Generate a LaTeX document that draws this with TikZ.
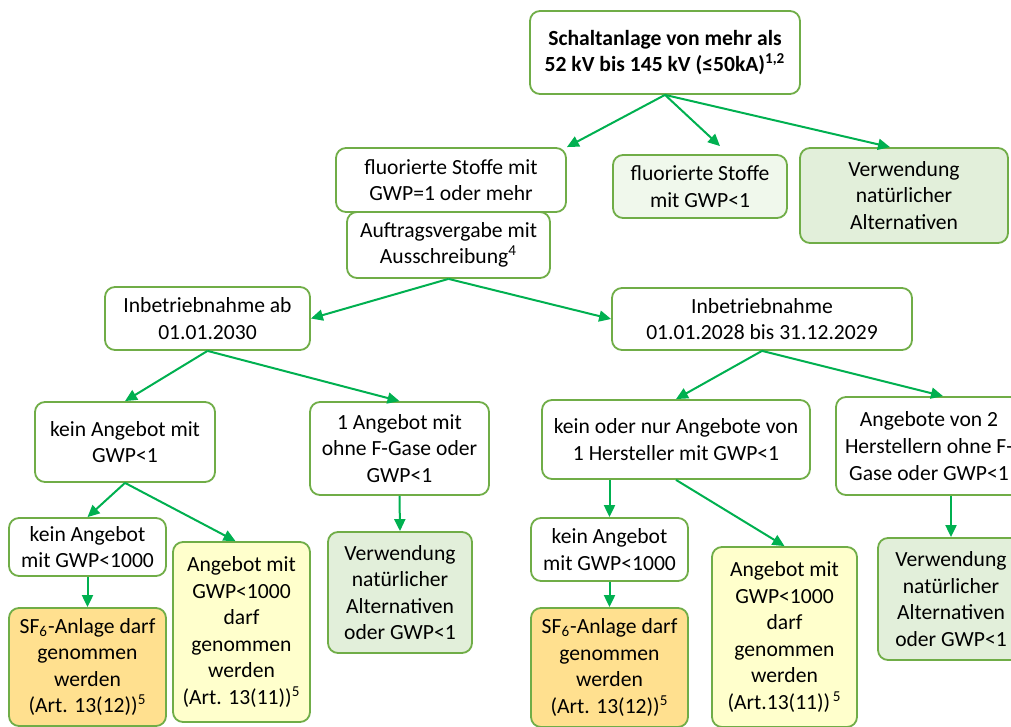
\documentclass[tikz,border=0pt]{standalone}
\usepackage{fontspec}
\setmainfont{Carlito}
\usepackage{xcolor}
\usetikzlibrary{arrows.meta,calc}
\definecolor{boxgreen}{HTML}{70AD47}
\definecolor{arrowgreen}{HTML}{00B050}
\definecolor{palegreen}{HTML}{F0F8EC}
\definecolor{lightgreen}{HTML}{E2EFDA}
\definecolor{lightyellow}{HTML}{FFFFCC}
\definecolor{lightorange}{HTML}{FFE08F}
\tikzset{
	box/.style={draw=boxgreen, line width=0.9pt, rounded corners=5pt, fill=white,
		align=center, inner sep=1pt},
	flow/.style={draw=arrowgreen, line width=1pt, -{Triangle[length=6pt,width=5.5pt]}}
}
\tikzstyle{natural}=[fill=lightgreen]
\tikzstyle{lowgwp}=[fill=palegreen]
\tikzstyle{maybe}=[fill=lightyellow]
\tikzstyle{allowed}=[fill=lightorange]

\begin{document}
\begin{tikzpicture}[x=0.5pt, y=-0.5pt, font=\fontsize{10.8}{13.3}\selectfont]
	\useasboundingbox (0,0) rectangle (1011,727);
	\clip (0,0) rectangle (1011,727);
%
	\node[box, minimum width=135pt, minimum height=41.5pt, font=\fontsize{10.8}{13.3}\selectfont\bfseries] (top) at (665,52.5)
		{Schaltanlage von mehr als\\52 kV bis 145 kV (≤50kA)\textsuperscript{1,2}};
	\node[box, minimum width=115pt, minimum height=32pt] (fluor) at (451,180)
		{fluorierte Stoffe mit\\GWP=1 oder mehr};
	\node[box, lowgwp, minimum width=87pt, minimum height=31.5pt] (fluorlow) at (700,186.5)
		{fluorierte Stoffe\\mit GWP<1};
	\node[box, natural, minimum width=104pt, minimum height=47.5pt] (natur) at (904,195.5)
		{Verwendung\\natürlicher\\Alternativen};
	\node[box, minimum width=101.5pt, minimum height=33pt] (auftrag) at (448.5,245)
		{Auftragsvergabe mit\\Ausschreibung\textsuperscript{4}};
%
	\node[box, minimum width=102.5pt, minimum height=31.5pt] (ibnA) at (207.5,318.5)
		{Inbetriebnahme ab\\01.01.2030};
	\node[box, minimum width=150pt, minimum height=31pt] (ibnB) at (762,319)
		{Inbetriebnahme\\01.01.2028 bis 31.12.2029};
%
	\node[box, minimum width=90pt, minimum height=40pt] (keinA) at (125,442)
		{kein Angebot mit\\GWP<1};
	\node[box, minimum width=89.5pt, minimum height=46.5pt] (einsA) at (399.5,448.5)
		{1 Angebot mit\\ohne F-Gase oder\\GWP<1};
	\node[box, minimum width=78.5pt, minimum height=29pt] (keintausendA) at (87.5,547)
		{kein Angebot\\mit GWP<1000};
	\node[box, maybe, minimum width=68.5pt, minimum height=90pt] (tausendA) at (241.5,632)
		{Angebot mit\\GWP<1000\\darf\\genommen\\werden\\(Art. 13(11))\textsuperscript{5}};
	\node[box, allowed, minimum width=78.5pt, minimum height=59pt] (sfA) at (87.5,667)
		{SF\textsubscript{6}-Anlage darf\\genommen\\werden\\(Art. 13(12))\textsuperscript{5}};
	\node[box, natural, minimum width=72pt, minimum height=60.5pt] (naturA) at (400,592.5)
		{Verwendung\\natürlicher\\Alternativen\\oder GWP<1};
%
	\node[box, minimum width=134pt, minimum height=39.5pt] (keinB) at (676,439.5)
		{kein oder nur Angebote von\\1 Hersteller mit GWP<1};
	\node[box, minimum width=93pt, minimum height=49pt] (zweiB) at (929,446)
		{Angebote von 2\\Herstellern ohne F-\\Gase oder GWP<1};
	\node[box, minimum width=78.5pt, minimum height=31.5pt] (keintausendB) at (609.5,549.5)
		{kein Angebot\\mit GWP<1000};
	\node[box, allowed, minimum width=78.5pt, minimum height=59.5pt] (sfB) at (609.5,667.5)
		{SF\textsubscript{6}-Anlage darf\\genommen\\werden\\(Art. 13(12))\textsuperscript{5}};
	\node[box, maybe, minimum width=72.5pt, minimum height=90pt] (tausendB) at (784.5,637)
		{Angebot mit\\GWP<1000\\darf\\genommen\\werden\\(Art.13(11))\textsuperscript{\,5}};
	\node[box, natural, minimum width=73pt, minimum height=61pt] (naturB) at (951,599)
		{Verwendung\\natürlicher\\Alternativen\\oder GWP<1};
%
	\draw[flow] (top.south) -- (fluor.north east);
	\draw[flow] (top.south) -- ($(fluorlow.north)+(20,-8)$);
	\draw[flow] (top.south) -- ($(natur.north)+(-14,0)$);
	\draw[flow] (auftrag.south) -- (ibnA.east);
	\draw[flow] (auftrag.south) -- (ibnB.west);
	\draw[flow] (ibnA.south) -- (keinA.north);
	\draw[flow] (ibnA.south) -- (einsA.north);
	\draw[flow] (keinA.south) -- (keintausendA.north);
	\draw[flow] (keinA.south) -- ($(tausendA.north)+(-6,0)$);
	\draw[flow] (keintausendA.south) -- (sfA.north);
	\draw[flow] (einsA.south) -- (naturA.north);
	\draw[flow] (ibnB.south) -- (keinB.north);
	\draw[flow] (ibnB.south) -- ($(zweiB.north)+(14,0)$);
	\draw[flow] (keintausendB.north |- keinB.south) -- (keintausendB.north);
	\draw[flow] (keinB.south) -- (tausendB.north);
	\draw[flow] (keintausendB.south) -- (sfB.north);
	\draw[flow] (naturB.north |- zweiB.south) -- (naturB.north);
\end{tikzpicture}
\end{document}
